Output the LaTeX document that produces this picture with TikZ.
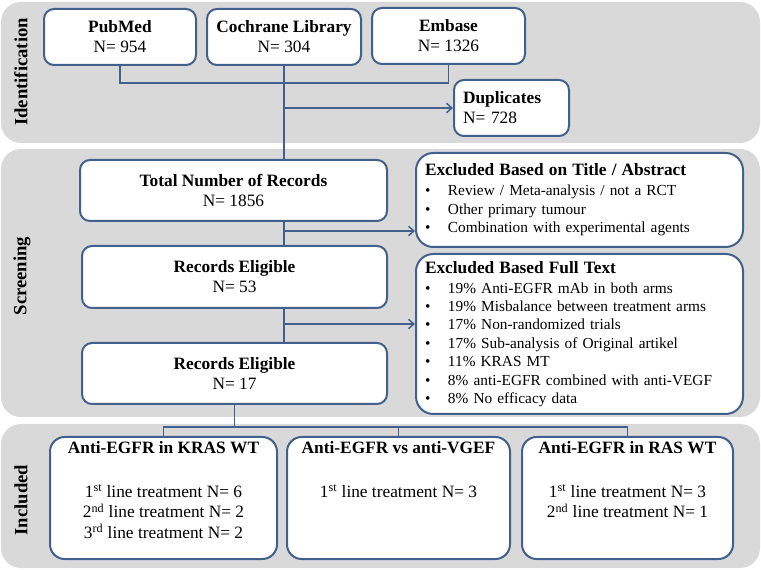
\documentclass[tikz,border=0pt]{standalone}
\usepackage{fontspec}
\setmainfont{Liberation Serif}
\usetikzlibrary{arrows.meta}
\definecolor{boxblue}{RGB}{66,96,140}
\definecolor{bandgray}{RGB}{217,217,217}
\newcommand{\bitem}[1]{\makebox[17.25pt][l]{\textbullet}#1\par}
\newcommand{\inctext}[2]{\parbox[c][85pt][t]{150pt}{\centering\textbf{#1}\par\vspace{17.6pt}#2}}
\begin{document}
\begin{tikzpicture}[
    x=0.75pt, y=-0.75pt,
    band/.style={fill=bandgray, rounded corners=15pt},
    band label/.style={rotate=90, font=\fontsize{14}{16}\selectfont\bfseries},
    flow box/.style={draw=boxblue, line width=1.5pt, fill=white, rounded corners=7.5pt, align=center, font=\fontsize{13}{15}\selectfont},
    excl box/.style={flow box, rounded corners=13pt, align=left, inner xsep=6.75pt, text width=231.75pt, font=\fontsize{11.5}{13.8}\selectfont},
    inc box/.style={flow box, rounded corners=11pt, inner sep=0pt, minimum height=91.5pt, font=\fontsize{13}{15.4}\selectfont},
    flow line/.style={draw=boxblue, line width=1.1pt},
    flow arrow/.style={flow line, -{Straight Barb[length=4pt,width=7pt]}},
    ]
\useasboundingbox (0,0) rectangle (761,570);
\fill[band] (1,2) rectangle (760,143);
\fill[band] (1,149) rectangle (760,417);
\fill[band] (1,424) rectangle (760,568);
\node[band label] (idlabel) at (21,72) {Identification};
\node[band label] (scrlabel) at (22,276) {Screening};
\node[band label] (inclabel) at (21,500) {Included};
\node[flow box, minimum width=114pt, minimum height=42pt] (pubmed) at (120,37) {\textbf{PubMed}\\N= 954};
\node[flow box, minimum width=115.5pt, minimum height=42pt] (cochrane) at (284,37) {\textbf{Cochrane Library}\\N= 304};
\node[flow box, minimum width=114.75pt, minimum height=42pt] (embase) at (448.5,36) {\textbf{Embase}\\N= 1326};
\node[flow box, align=left, inner xsep=6.75pt, text width=72.75pt, minimum height=42pt] (dupl) at (511.5,108) {\textbf{Duplicates}\\N= 728};
\node[flow box, minimum width=230.25pt, minimum height=45.75pt] (total) at (233.5,190.5) {\textbf{Total Number of Records}\\N= 1856};
\node[flow box, minimum width=228.75pt, minimum height=46.5pt] (rec53) at (234.5,277) {\textbf{Records Eligible}\\N= 53};
\node[flow box, minimum width=228.75pt, minimum height=45.75pt] (rec17) at (234.5,373.5) {\textbf{Records Eligible}\\N= 17};
\node[excl box, minimum height=70.5pt] (excl1) at (579.5,200) {{\fontsize{13}{15}\selectfont\bfseries Excluded Based on Title / Abstract\par}\vspace{1.2pt}
  \bitem{Review / Meta-analysis / not a RCT}
  \bitem{Other primary tumour}
  \bitem{Combination with experimental agents}};
\node[excl box, minimum height=120pt] (excl2) at (579.5,334) {{\fontsize{13}{15}\selectfont\bfseries Excluded Based Full Text\par}\vspace{1.2pt}
  \bitem{19\% Anti-EGFR mAb in both arms}
  \bitem{19\% Misbalance between treatment arms}
  \bitem{17\% Non-randomized trials}
  \bitem{17\% Sub-analysis of Original artikel}
  \bitem{11\% KRAS MT}
  \bitem{8\% anti-EGFR combined with anti-VEGF}
  \bitem{8\% No efficacy data}};
\node[inc box, minimum width=170.25pt] (kras) at (163.5,498) {\inctext{Anti-EGFR in KRAS WT}{1\textsuperscript{st} line treatment N= 6\\2\textsuperscript{nd} line treatment N= 2\\3\textsuperscript{rd} line treatment N= 2}};
\node[inc box, minimum width=167.25pt] (vgef) at (398.5,498) {\inctext{Anti-EGFR vs anti-VGEF}{1\textsuperscript{st} line treatment N= 3}};
\node[inc box, minimum width=158.25pt] (ras) at (627.5,498) {\inctext{Anti-EGFR in RAS WT}{1\textsuperscript{st} line treatment N= 3\\2\textsuperscript{nd} line treatment N= 1}};
\coordinate (idjoin) at (284,83);
\draw[flow line] (pubmed.south) |- (idjoin) -| (embase.south);
\draw[flow line] (cochrane.south) -- (cochrane.south |- total.north);
\draw[flow arrow] (cochrane.south |- dupl.west) -- (dupl.west);
\draw[flow line] (total.south -| cochrane.south) -- (rec53.north -| cochrane.south);
\draw[flow line] (rec53.south -| cochrane.south) -- (rec17.north -| cochrane.south);
\coordinate (scr1) at (284,231);
\coordinate (scr2) at (284,324);
\draw[flow arrow] (scr1) -- (scr1 -| excl1.west);
\draw[flow arrow] (scr2) -- (scr2 -| excl2.west);
\coordinate (incjoin) at (234.5,427);
\draw[flow line] (rec17.south) -- (incjoin);
\draw[flow line] (kras.north) |- (incjoin) -| (ras.north);
\draw[flow line] (vgef.north) -- (vgef.north |- incjoin);
\end{tikzpicture}
\end{document}
